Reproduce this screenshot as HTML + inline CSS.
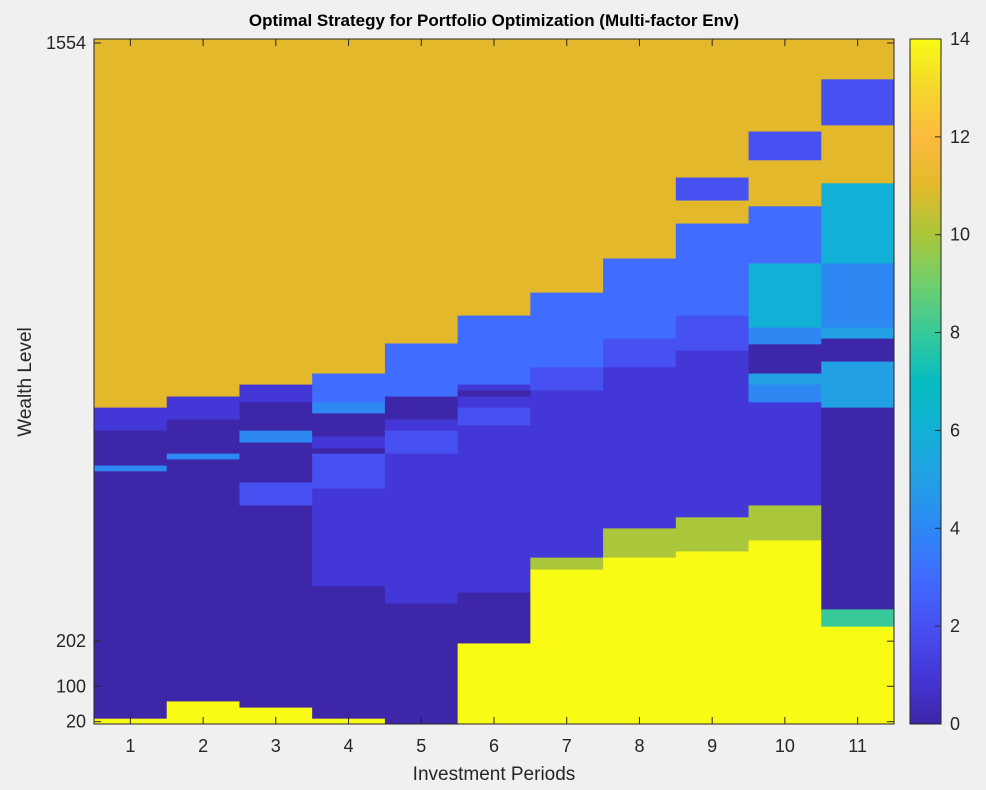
<!DOCTYPE html>
<html><head><meta charset="utf-8"><style>
html,body{margin:0;padding:0;background:#f0f0f0;}
svg{display:block;font-family:"Liberation Sans",Arial,sans-serif;}
</style></head><body>
<svg id="chart" width="986" height="790" viewBox="0 0 986 790" xmlns="http://www.w3.org/2000/svg">
<rect width="986" height="790" fill="#f0f0f0"/>
<text x="494" y="26" text-anchor="middle" font-size="17" font-weight="bold" fill="#000">Optimal Strategy for Portfolio Optimization (Multi-factor Env)</text>
<g id="cells"></g>
<g id="axes"></g>
<defs><linearGradient id="cbgrad" x1="0" y1="1" x2="0" y2="0"></linearGradient></defs>
<g id="cbar"></g>
<text x="494" y="780" text-anchor="middle" font-size="19" fill="#262626">Investment Periods</text>
<text transform="translate(31,382) rotate(-90)" text-anchor="middle" font-size="19" fill="#262626">Wealth Level</text>
</svg>
<script>
// data
const periods = [1,2,3,4,5,6,7,8,9,10,11];
const yTickLabels = [20,100,202,1554];
const cbTickLabels = [0,2,4,6,8,10,12,14];
const col1Edges = [15,28,587,600,679,731,1563];
const col1Vals = [14,0,4,0,1,11];
const col2Edges = [15,67,614,627,704,756,1563];
const col2Vals = [14,0,4,0,1,11];
const col3Edges = [15,53,510,562,652,679,743,783,1563];
const col3Vals = [14,0,2,0,4,0,1,11];
const col4Edges = [15,28,327,548,627,639,666,718,743,808,1563];
const col4Vals = [14,0,1,2,0,1,0,4,3,11];
const col5Edges = [15,288,627,679,704,756,876,1563];
const col5Vals = [0,1,2,1,0,3,11];
const col6Edges = [15,198,313,691,731,756,770,783,939,1563];
const col6Vals = [14,0,1,2,1,0,1,3,11];
const col7Edges = [15,365,392,770,822,991,1563];
const col7Vals = [14,10,1,2,3,11];
const col8Edges = [15,392,458,822,887,1068,1563];
const col8Vals = [14,10,1,2,3,11];
const col9Edges = [15,406,483,860,939,1147,1199,1251,1563];
const col9Vals = [14,10,1,2,3,11,2,11];
const col10Edges = [15,431,510,743,783,808,874,912,1057,1186,1290,1355,1563];
const col10Vals = [14,10,1,4,5,0,4,6,3,11,2,11];
const col11Edges = [15,236,275,731,835,887,912,1057,1238,1369,1473,1563];
const col11Vals = [14,8,0,5,0,5,4,6,11,2,11];
const columns = [[col1Edges,col1Vals],[col2Edges,col2Vals],[col3Edges,col3Vals],[col4Edges,col4Vals],[col5Edges,col5Vals],[col6Edges,col6Vals],[col7Edges,col7Vals],[col8Edges,col8Vals],[col9Edges,col9Vals],[col10Edges,col10Vals],[col11Edges,col11Vals]];

// colormap (parula-like)
const cmap = ['#3e26a8','#4437d8','#4750f0','#406cff','#2d88f4','#22a0e4','#12b0d6','#06bcc0','#37c99a','#70cf6c','#aac63a','#e3b92b','#fcba3e','#f4d72b','#f9fb15'];
function hex(c){return [1,3,5].map(i=>parseInt(c.substr(i,2),16));}
function color(v){
  v=Math.max(0,Math.min(14,v));const i=Math.floor(v),f=v-i;
  if(i>=14) return cmap[14];
  const a=hex(cmap[i]),b=hex(cmap[i+1]);
  return 'rgb('+a.map((x,k)=>Math.round(x+(b[k]-x)*f)).join(',')+')';
}
const NS='http://www.w3.org/2000/svg';
const L=94,R=894,T=39,B=724;
const wMin=14.8,wMax=1563;
function yS(w){return B-(w-wMin)/(wMax-wMin)*(B-T);}
const colW=(R-L)/periods.length;
function xS(p){return L+(p-0.5)*colW;}
function mk(tag,attrs,parent){const e=document.createElementNS(NS,tag);for(const k in attrs)e.setAttribute(k,attrs[k]);parent.appendChild(e);return e;}

const cells=document.getElementById('cells');
columns.forEach((c,ci)=>{
  const [edges,vals]=c;
  vals.forEach((v,j)=>{
    const y1=yS(edges[j+1]),y0=yS(edges[j]);
    const r=mk('rect',{x:xS(periods[ci])-colW/2,y:y1,width:colW+0.5,height:y0-y1+0.5,fill:color(v)},cells);
    
    
  });
});

const ax=document.getElementById('axes');
const box=mk('rect',{x:L,y:T,width:R-L,height:B-T,fill:'none',stroke:'#262626','stroke-width':1},ax);


periods.forEach(p=>{
  const x=xS(p);
  mk('line',{x1:x,x2:x,y1:B,y2:B-7,stroke:'#262626'},ax);
  mk('line',{x1:x,x2:x,y1:T,y2:T+7,stroke:'#262626'},ax);
  const t=mk('text',{x:x,y:B+28,'text-anchor':'middle','font-size':18,fill:'#262626'},ax);
  t.textContent=p;
  
  
});
yTickLabels.forEach(w=>{
  const y=yS(w);
  mk('line',{x1:L,x2:L+7,y1:y,y2:y,stroke:'#262626'},ax);
  mk('line',{x1:R,x2:R-7,y1:y,y2:y,stroke:'#262626'},ax);
  const t=mk('text',{x:L-8,y:y+6,'text-anchor':'end','font-size':18,fill:'#262626'},ax);
  t.textContent=w;
  
  
});

// colorbar
const grad=document.getElementById('cbgrad');
for(let i=0;i<=28;i++){mk('stop',{offset:(i/28),'stop-color':color(i/2)},grad);}
const cb=document.getElementById('cbar');
const CL=910,CR=941;
const cbr=mk('rect',{x:CL,y:T,width:CR-CL,height:B-T,fill:'url(#cbgrad)',stroke:'#262626','stroke-width':1},cb);


cbTickLabels.forEach(v=>{
  const y=B-v/14*(B-T);
  mk('line',{x1:CR,x2:CR-6,y1:y,y2:y,stroke:'#262626'},cb);
  const t=mk('text',{x:CR+9,y:y+6,'font-size':18,fill:'#262626'},cb);
  t.textContent=v;
  
  
});
</script>
</body></html>
